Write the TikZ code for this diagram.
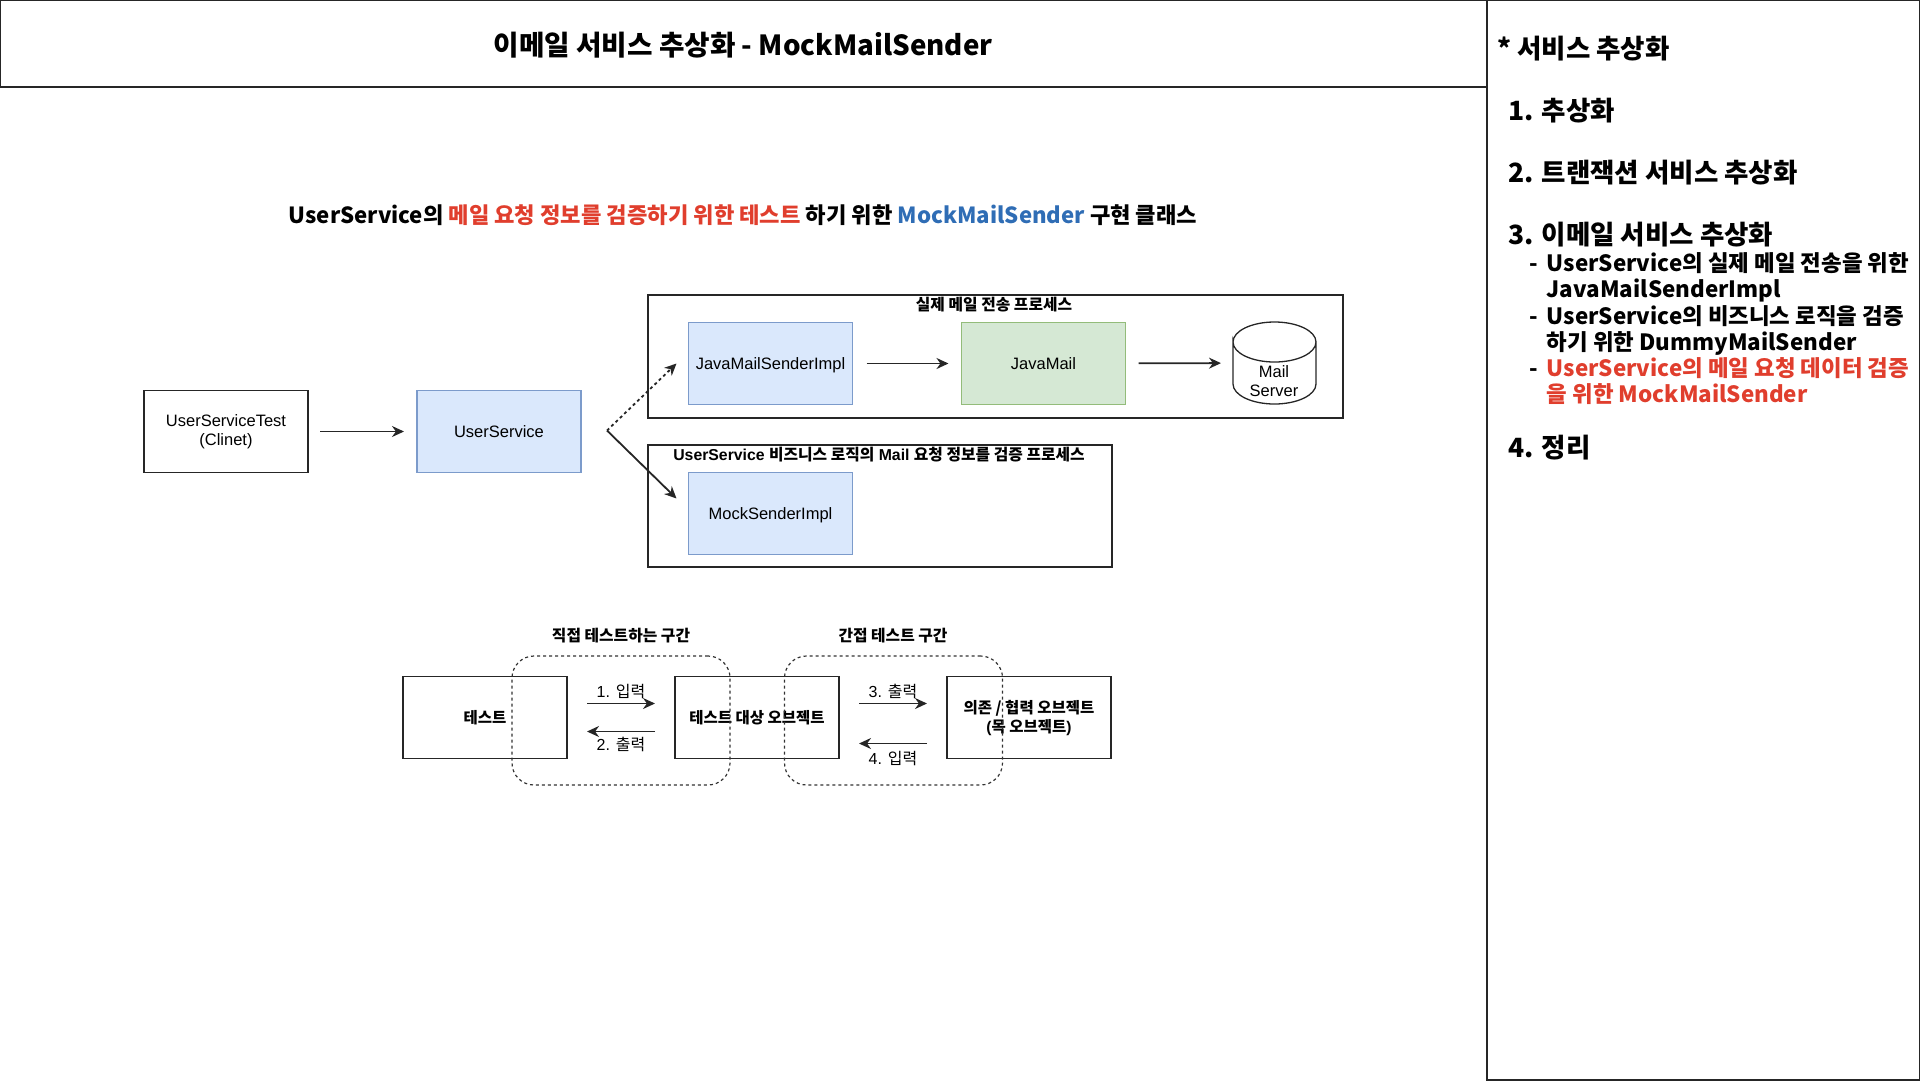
\documentclass[tikz,border=0pt]{standalone}
\usepackage{fontspec}
\usepackage{xcolor}
\usepackage{tikz}
\usetikzlibrary{arrows.meta, positioning, calc}
\setmainfont{Liberation Sans}
\newfontfamily\krfont{Noto Sans CJK KR}
\newcommand{\kr}[1]{{\krfont #1}}
\newcommand{\panelrow}[2]{-\hspace{9pt}\parbox[t]{372pt}{#1\\#2}}
\definecolor{markred}{HTML}{E03E2D}
\definecolor{markblue}{HTML}{2F6DB5}
\definecolor{svcfill}{HTML}{DAE8FC}
\definecolor{svcline}{HTML}{7C9BCB}
\definecolor{mailfill}{HTML}{D5E8D4}
\definecolor{mailline}{HTML}{93BC7A}

\begin{document}
\begin{tikzpicture}[
    x=1pt, y=-1pt,
    node distance=109pt and 109pt,
    frame/.style={rectangle, draw=black!85, line width=1.3pt, inner sep=0pt, outer sep=0pt},
    plain/.style={frame, minimum width=164pt, minimum height=82pt, font=\fontsize{16.5}{19.5}\selectfont, align=center},
    svc/.style={plain, draw=svcline, fill=svcfill, text depth=0pt},
    mail/.style={plain, draw=mailline, fill=mailfill},
    lowbox/.style={plain, font=\fontsize{15.5}{19}\selectfont\bfseries},
    zone/.style={rectangle, draw=black!80, dashed, line width=1.2pt, rounded corners=22pt, outer sep=0pt,
                 minimum width=218pt, minimum height=129pt, inner sep=0pt},
    arr/.style={-{Stealth[length=12pt,width=11pt]}, line width=1.8pt, draw=black!85},
    hand/.style={font=\krfont\bfseries\fontsize{22.2}{26}\selectfont, inner sep=0pt},
    handitem/.style={hand, anchor=west, font=\krfont\bfseries\fontsize{26.5}{32}\selectfont},
    handsub/.style={font=\krfont\bfseries\fontsize{22.4}{26}\selectfont, inner sep=0pt, anchor=north west, align=left},
    tag/.style={font=\fontsize{15.8}{18}\selectfont\bfseries, inner sep=0pt},
    edgelbl/.style={font=\fontsize{16}{19}\selectfont, inner sep=0pt}
]
  \useasboundingbox (0,0) rectangle (1920,1080);

  % outer layout
  \node[frame, minimum width=1487pt, minimum height=87pt, anchor=north west] (header) at (0,0) {};
  \node[frame, minimum width=433pt, minimum height=1080pt, anchor=north west] (panel) at (1487,0) {};
  \node[hand, font=\krfont\bfseries\fontsize{27.7}{34}\selectfont] (title) at (743,45) {이메일 서비스 추상화 - MockMailSender};
  \node[hand] (heading) at (743,215) {UserService의 \textcolor{markred}{메일 요청 정보를 검증하기 위한 테스트} 하기 위한 \textcolor{markblue}{MockMailSender} 구현 클래스};

  % side panel
  \node[handitem] (panelhead) at (1497,49)  {* 서비스 추상화};
  \node[handitem] (itemone)   at (1508,111) {1. 추상화};
  \node[handitem] (itemtwo)   at (1508,173) {2. 트랜잭션 서비스 추상화};
  \node[handitem] (itemthree) at (1508,235) {3. 이메일 서비스 추상화};
  \node[handsub] (subone)   at (1529,252) {\panelrow{UserService의 실제 메일 전송을 위한}{JavaMailSenderImpl}};
  \node[handsub] (subtwo)   at (1529,305) {\panelrow{UserService의 비즈니스 로직을 검증}{하기 위한 DummyMailSender}};
  \node[handsub] (subthree) at (1529,357) {\panelrow{\textcolor{markred}{UserService의 메일 요청 데이터 검증}}{\textcolor{markred}{을 위한 MockMailSender}}};
  \node[handitem] (itemfour) at (1508,448) {4. 정리};

  % upper diagram
  \node[frame, minimum width=695pt, minimum height=123pt, anchor=north west] (realbox) at (648,295) {};
  \node[frame, minimum width=464pt, minimum height=122pt, anchor=north west] (mockbox) at (648,445) {};
  \node[tag] (realtag) at (994,305) {\kr{실제 메일 전송 프로세스}};
  \node[tag] (mocktag) at (879,455) {UserService \kr{비즈니스 로직의} Mail \kr{요청 정보를 검증 프로세스}};

  \node[plain, anchor=north west] (client) at (144,390.5) {UserServiceTest\\(Clinet)};
  \node[svc, right=109pt of client] (service) {UserService};
  \node[svc, anchor=north west] (javaimpl) at (688.5,322.5) {JavaMailSenderImpl};
  \node[mail, right=109pt of javaimpl] (javamail) {JavaMail};
  \node[svc, anchor=north west] (mockimpl) at (688.5,472.5) {MockSenderImpl};
  \node[minimum width=83pt, minimum height=82pt, inner sep=0pt, outer sep=0pt] (server) at (1274.5,363) {};
  \draw[line width=1.3pt, draw=black!85]
    ([yshift=21pt]server.west) arc[start angle=180, end angle=-180, x radius=41.5pt, y radius=20pt]
    -- ([yshift=-21pt]server.west) arc[start angle=180, end angle=360, x radius=41.5pt, y radius=20pt]
    -- ([yshift=21pt]server.east);
  \node[font=\fontsize{16.5}{19.5}\selectfont, align=center, inner sep=0pt] (servertext) at (1274,381) {Mail\\Server};

  \coordinate (fork) at ($(service.east)+(26,-1)$);
  \coordinate[left=12pt of javaimpl.west] (realend);
  \coordinate[left=12pt of mockimpl.west, yshift=15pt] (mockend);

  \draw[arr, shorten <=12pt, shorten >=13pt] (client) -- (service);
  \draw[arr, dashed] (fork) -- (realend);
  \draw[arr] (fork) -- (mockend);
  \draw[arr, shorten <=14pt, shorten >=13pt] (javaimpl) -- (javamail);
  \draw[arr, shorten <=13pt, shorten >=12pt] (javamail) -- (server);

  % lower diagram
  \node[lowbox, anchor=north west] (tester) at (403,676.5) {\kr{테스트}};
  \node[lowbox, right=108pt of tester] (target) {\kr{테스트 대상 오브젝트}};
  \node[lowbox, right=108pt of target] (mockobj) {\kr{의존 / 협력 오브젝트}\\(\kr{목 오브젝트})};

  \draw[arr, shorten <=20pt, shorten >=20pt] ([yshift=14pt]tester.east) -- node[edgelbl, above=4pt]{1. \kr{입력}} ([yshift=14pt]target.west);
  \draw[arr, shorten <=20pt, shorten >=20pt] ([yshift=-14pt]target.west) -- node[edgelbl, below=5pt]{2. \kr{출력}} ([yshift=-14pt]tester.east);
  \draw[arr, shorten <=20pt, shorten >=20pt] ([yshift=14pt]target.east) -- node[edgelbl, above=4pt]{3. \kr{출력}} ([yshift=14pt]mockobj.west);
  \draw[arr, shorten <=20pt, shorten >=20pt] ([yshift=-26pt]mockobj.west) -- node[edgelbl, below=7pt]{4. \kr{입력}} ([yshift=-26pt]target.east);

  \node[zone] (directzone) at (621,720.5) {};
  \node[zone] (indirectzone) at (893.5,720.5) {};
  \node[tag] (directtag) at (621,636) {\kr{직접 테스트하는 구간}};
  \node[tag] (indirecttag) at (893,636) {\kr{간접 테스트 구간}};
\end{tikzpicture}
\end{document}
